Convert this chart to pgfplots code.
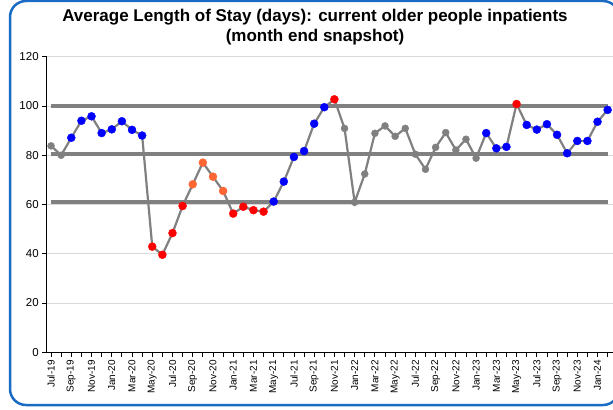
\documentclass[border=0pt]{standalone}
\usepackage{fontspec}
\setmainfont{Liberation Sans}
\usepackage{pgfplots}
\usepackage{pgfplotstable}
\pgfplotsset{compat=1.18}
\definecolor{FrameBlue}{HTML}{1A6BC4}
\definecolor{LineGray}{HTML}{808080}
\definecolor{GridGray}{HTML}{D9D9D9}
\definecolor{PtBlue}{HTML}{0000FF}
\definecolor{PtRed}{HTML}{FF0000}
\definecolor{PtOrange}{HTML}{FF6633}

% month index, average length of stay, point class
\pgfplotstableread{
x y c
0 83.8 g
1 80.0 g
2 87.1 b
3 94.0 b
4 95.8 b
5 89.0 b
6 90.5 b
7 93.8 b
8 90.3 b
9 88.0 b
10 42.9 r
11 39.6 r
12 48.4 r
13 59.4 r
14 68.2 o
15 77.0 o
16 71.3 o
17 65.5 o
18 56.3 r
19 59.1 r
20 57.7 r
21 57.1 r
22 61.2 b
23 69.3 b
24 79.3 b
25 81.7 b
26 92.8 b
27 99.5 b
28 102.7 r
29 90.9 g
30 60.9 g
31 72.4 g
32 88.9 g
33 91.9 g
34 87.7 g
35 90.9 g
36 80.4 g
37 74.3 g
38 83.2 g
39 89.2 g
40 82.1 g
41 86.5 g
42 78.8 g
43 89.0 b
44 82.8 b
45 83.4 b
46 100.8 r
47 92.3 b
48 90.4 b
49 92.6 b
50 88.3 b
51 80.8 b
52 85.8 b
53 85.8 b
54 93.6 b
55 98.4 b
}\losdata

\begin{document}
\begin{tikzpicture}[x=1bp,y=1bp]
\useasboundingbox (0,0) rectangle (613,409);
\draw[FrameBlue,line width=2.5bp,rounded corners=16bp] (10,4) rectangle (619,408);
\node[align=center,font=\fontsize{17bp}{20.5bp}\selectfont\bfseries] at (315,382)
  {Average Length of Stay (days): current older people inpatients\\(month end snapshot)};
\begin{axis}[
    at={(46.7bp,56.7bp)},
    anchor=south west,
    scale only axis,
    width=566bp,
    height=295.6bp,
    xmin=-0.43, xmax=55.5,
    ymin=0, ymax=120,
    axis x line*=bottom,
    axis y line*=left,
    axis line style={-,black,line width=0.8bp},
    xtick={0,2,...,54},
    minor xtick={1,3,...,55},
    xticklabels={Jul-19,Sep-19,Nov-19,Jan-20,Mar-20,May-20,Jul-20,Sep-20,Nov-20,
        Jan-21,Mar-21,May-21,Jul-21,Sep-21,Nov-21,Jan-22,Mar-22,May-22,Jul-22,
        Sep-22,Nov-22,Jan-23,Mar-23,May-23,Jul-23,Sep-23,Nov-23,Jan-24},
    ytick={0,20,...,120},
    tick align=outside,
    major tick length=4.5bp,
    minor tick length=4.5bp,
    tick style={black,line width=0.8bp},
    x tick label style={rotate=90,anchor=east,font=\fontsize{10bp}{12bp}\selectfont},
    y tick label style={font=\fontsize{11.5bp}{13bp}\selectfont},
    /pgf/number format/assume math mode=true,
    ymajorgrids=true,
    grid style={GridGray,line width=0.8bp},
    clip=false,
]
% control limits
\addplot[LineGray,line width=4bp] coordinates {(0,100) (55,100)};
\addplot[LineGray,line width=4bp] coordinates {(0,80.4) (55,80.4)};
\addplot[LineGray,line width=4bp] coordinates {(0,60.9) (55,60.9)};
% run line
\addplot[LineGray,line width=2.2bp,no marks] table[x=x,y=y] {\losdata};
\addplot[
    scatter,only marks,
    scatter src=explicit symbolic,
    scatter/classes={
        g={mark=*,mark size=3.5bp,LineGray,draw=LineGray,fill=LineGray},
        b={mark=*,mark size=4bp,PtBlue,draw=PtBlue,fill=PtBlue},
        r={mark=*,mark size=4bp,PtRed,draw=PtRed,fill=PtRed},
        o={mark=*,mark size=4bp,PtOrange,draw=PtOrange,fill=PtOrange}},
] table[x=x,y=y,meta=c] {\losdata};
\end{axis}
\end{tikzpicture}
\end{document}
